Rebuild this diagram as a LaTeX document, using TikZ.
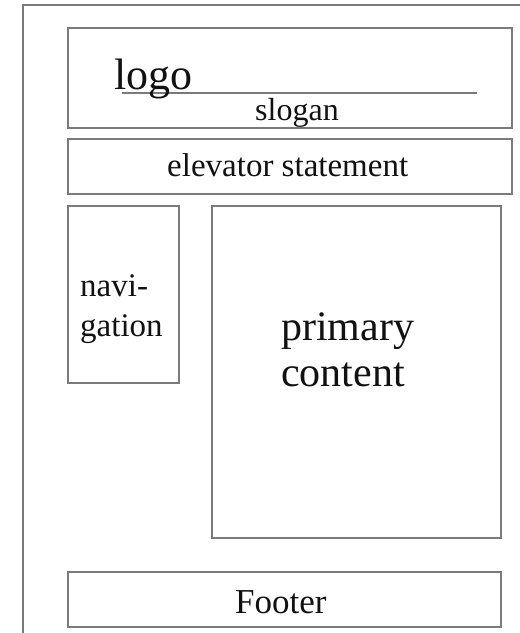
\documentclass[tikz,border=0pt]{standalone}
\usepackage{fontspec}
\setmainfont{Liberation Serif}
\definecolor{linegray}{HTML}{7A7A7A}
\definecolor{ink}{HTML}{111111}
\begin{document}
\begin{tikzpicture}[x=1pt,y=-1pt,
  box/.style={draw=linegray,line width=1.8pt,rectangle,inner sep=0pt,anchor=north west},
  txt/.style={text=ink,inner sep=0pt,anchor=base west},
  fs/.style={font=\fontsize{#1}{#1}\selectfont}]
\useasboundingbox (0,0) rectangle (520,633);
% outer frame
\coordinate (fbl) at (23,633);
\coordinate (ftl) at (23,5);
\coordinate (ftr) at (520,5);
\draw[linegray,line width=1.8pt] (fbl) -- (ftl) -- (ftr);
% boxes
\node[box,minimum width=444pt,minimum height=100pt] (header) at (67,27) {};
\node[box,minimum width=444pt,minimum height=55pt] (elev) at (67,138) {};
\node[box,minimum width=111pt,minimum height=177pt] (nav) at (67,205) {};
\node[box,minimum width=289pt,minimum height=332pt] (prim) at (211,205) {};
\node[box,minimum width=433pt,minimum height=55pt] (foot) at (67,571) {};
% slogan line
\coordinate (sl1) at (122,93);
\coordinate (sl2) at (477,93);
\draw[linegray,line width=1.8pt] (sl1) -- (sl2);
% texts
\node[txt,fs=44] (logo) at (114,89) {logo};
\node[txt,fs=32] (slogan) at (255,120) {slogan};
\node[txt,fs=33] (elevt) at (167,176) {elevator statement};
\node[txt,fs=33] (nav1) at (80,296) {navi-};
\node[txt,fs=33] (nav2) at (80,336) {gation};
\node[txt,fs=42] (prim1) at (281,340) {primary};
\node[txt,fs=42] (prim2) at (281,386) {content};
\node[txt,fs=35] (foott) at (235,613) {Footer};
\end{tikzpicture}
\end{document}
